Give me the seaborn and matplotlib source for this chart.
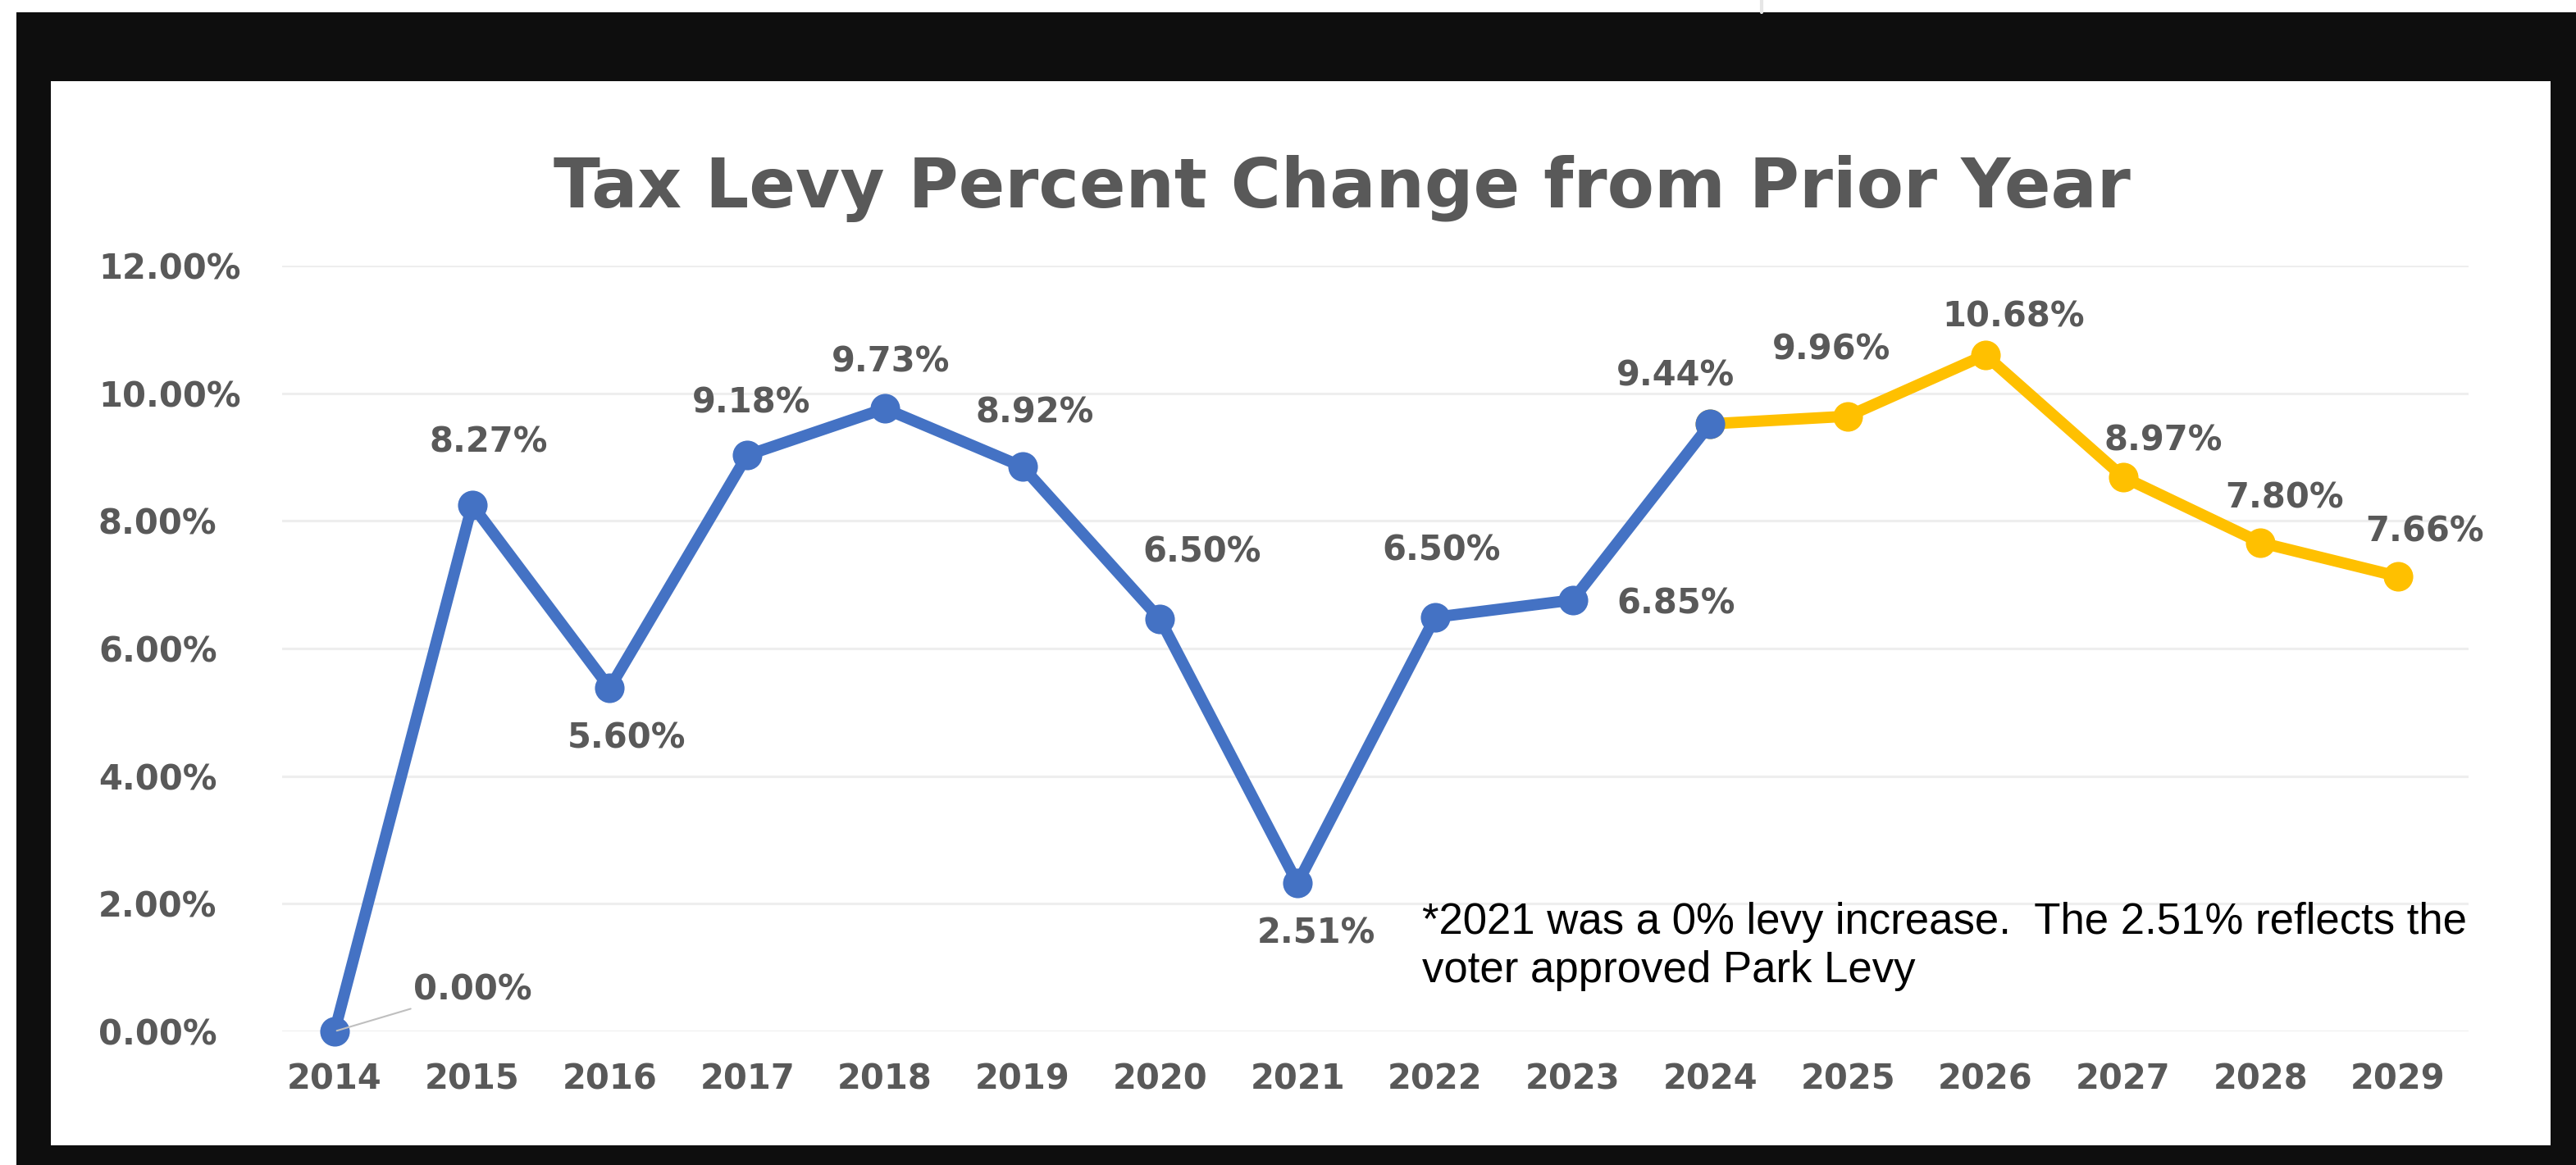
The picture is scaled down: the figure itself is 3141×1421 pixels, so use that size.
import numpy as np
import pandas as pd
import matplotlib
matplotlib.use('Agg')
import matplotlib.pyplot as plt
from matplotlib.patches import Rectangle
from matplotlib.lines import Line2D
import seaborn as sns

# values as plotted and the printed labels
years = [2014, 2015, 2016, 2017, 2018, 2019, 2020, 2021,
         2022, 2023, 2024, 2025, 2026, 2027, 2028, 2029]
plotted = [0.00, 8.25, 5.38, 9.03, 9.76, 8.85, 6.46, 2.32,
           6.49, 6.76, 9.52, 9.64, 10.60, 8.69, 7.66, 7.13]
labels = ['0.00%', '8.27%', '5.60%', '9.18%', '9.73%', '8.92%', '6.50%', '2.51%',
          '6.50%', '6.85%', '9.44%', '9.96%', '10.68%', '8.97%', '7.80%', '7.66%']
y_ticks = [0, 2, 4, 6, 8, 10, 12]
split_year = 2024

title = 'Tax Levy Percent Change from Prior Year'
note = '*2021 was a 0% levy increase.  The 2.51% reflects the\nvoter approved Park Levy'

# label offsets from each point, in pixels (right, down)
label_offsets = [(96, -50), (20, -76), (21, 61), (5, -64), (7, -57), (15, -66),
                 (51, -82), (23, 61), (8, -81), (126, 5), (-42, -59), (-20, -81),
                 (34, -46), (49, -44), (29, -54), (33, -55)]

df = pd.DataFrame({'year': years, 'pct': plotted, 'label': labels})
actual = df[df['year'] <= split_year]
future = df[df['year'] >= split_year]

sns.set_style('white')
plt.rcParams['font.family'] = ['DejaVu Sans']

W, H = 3141, 1421
DPI = 100
fig = plt.figure(figsize=(W / DPI, H / DPI), dpi=DPI, facecolor='white')

# black frame around the white chart area
fig.patches.append(Rectangle((20 / W, 0), 1 - 20 / W, 1 - 15 / H, transform=fig.transFigure,
                             facecolor='#0e0e0e', edgecolor='none', zorder=-3))
fig.patches.append(Rectangle((62 / W, 1 - 1397 / H), (3110 - 62) / W, (1397 - 99) / H,
                             transform=fig.transFigure, facecolor='white', edgecolor='none', zorder=-2))
fig.lines.append(Line2D([2148 / W, 2148 / W], [1 - 15 / H, 1], transform=fig.transFigure,
                        color='#e6e6e6', lw=3))

ax = fig.add_axes([344 / W, 1 - 1258 / H, (3010 - 344) / W, (1258 - 324) / H])
ax.set_facecolor('none')

blue = '#4472C4'
gold = '#FFC000'
sns.lineplot(data=future, x='year', y='pct', color=gold, linewidth=10, marker='o',
             markersize=26, markeredgewidth=0, clip_on=False, ax=ax, zorder=3)
sns.lineplot(data=actual, x='year', y='pct', color=blue, linewidth=10, marker='o',
             markersize=26, markeredgewidth=0, clip_on=False, ax=ax, zorder=4)

gray = '#595959'
px = 72 / DPI
for (yr, v, lab), (dx, dy) in zip(df[['year', 'pct', 'label']].values, label_offsets):
    if yr == years[0]:
        ax.annotate(lab, (yr, v), xytext=(dx * px, -dy * px), textcoords='offset points',
                    ha='left', va='center', fontsize=30, fontweight='bold', color=gray,
                    arrowprops=dict(arrowstyle='-', color='#bfbfbf', lw=1.5,
                                    shrinkA=0, shrinkB=2), zorder=5)
    else:
        ax.annotate(lab, (yr, v), xytext=(dx * px, -dy * px), textcoords='offset points',
                    ha='center', va='center', fontsize=30, fontweight='bold', color=gray, zorder=5)

unit = (2924 - 408) / 15
ax.set_xlim(years[0] - (408 - 344) / unit, years[-1] + (3010 - 2924) / unit)
ax.set_ylim(0, 12)
ax.set_xticks(years)
ax.set_xticklabels([str(y) for y in years])
ax.set_yticks(y_ticks)
ax.set_yticklabels([f'{t:.2f}%' for t in y_ticks])
ax.set_xlabel('')
ax.set_ylabel('')
for s in ax.spines.values():
    s.set_visible(False)
ax.yaxis.grid(True, color='#eeeeee', lw=2.2)
ax.xaxis.grid(False)
ax.set_axisbelow(True)
ax.tick_params(axis='x', length=0, pad=27, labelsize=30, labelcolor=gray)
ax.tick_params(axis='y', length=0, pad=(344 - 120) * px, labelsize=30, labelcolor=gray)
for t in ax.get_xticklabels() + ax.get_yticklabels():
    t.set_fontweight('bold')
for t in ax.get_yticklabels():
    t.set_horizontalalignment('left')

fig.text(1636 / W, 1 - 253 / H, title, ha='center', va='baseline', fontsize=60,
         fontweight='bold', color=gray)
fig.text(1734 / W, 1 - 1100 / H, note, ha='left', va='top', fontsize=38,
         family=['Liberation Sans', 'DejaVu Sans'], color='black', linespacing=1.22)

fig.savefig('out.png', dpi=DPI)
